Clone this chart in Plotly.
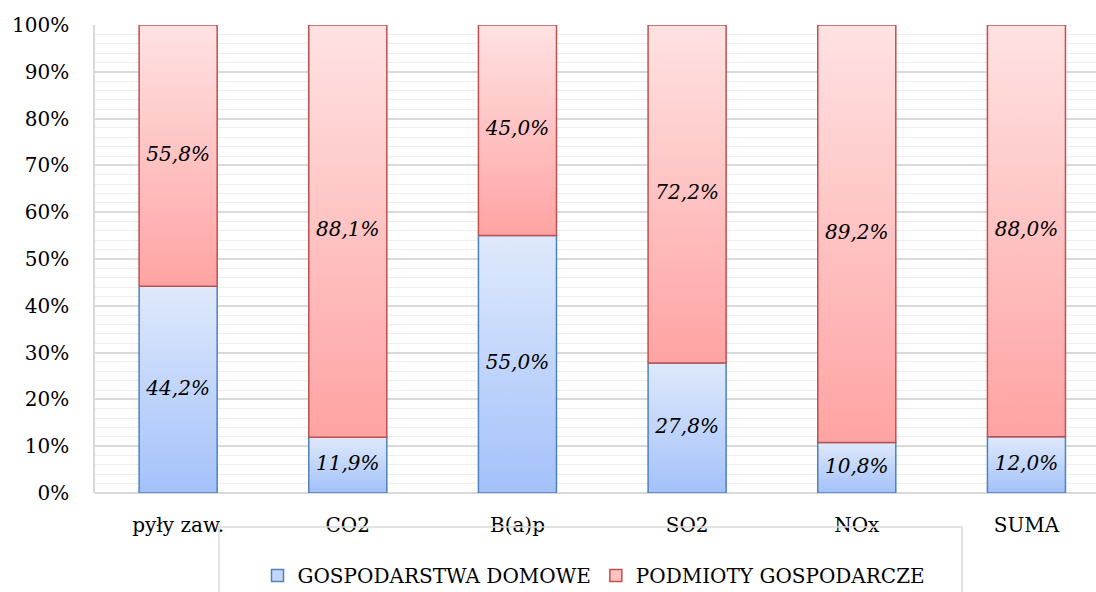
import plotly.graph_objects as go

# dane
kategorie = ["pyły zaw.", "CO2", "B(a)p", "SO2", "NOx", "SUMA"]
domowe = [44.2, 11.9, 55.0, 27.8, 10.8, 12.0]
podmioty = [55.8, 88.1, 45.0, 72.2, 89.2, 88.0]

serie = [
    ("GOSPODARSTWA DOMOWE", domowe, "#4f81bd", "#a3c1fa", "#dfe9fc", "#c4d7fb"),
    ("PODMIOTY GOSPODARCZE", podmioty, "#c0504d", "#ffa3a3", "#ffe2e2", "#ffc3c3"),
]

FONT = "DejaVu Serif"
bw = 0.46  # szerokosc slupka (w jednostkach kategorii)

# wymiary obszaru wykresu w pikselach (do przeliczen legendy)
L, T, W, H = 95, 25, 1001, 468


def px_x(p):
    return (p - L) / W


def px_y(p):
    return (T + H - p) / H


fig = go.Figure()
baza = [0.0] * len(kategorie)
lab_x, lab_y, lab_t = [], [], []
for nazwa, wart, kolor, dol, gora, sred in serie:
    for i, v in enumerate(wart):
        y0 = baza[i] / 100
        y1 = (baza[i] + v) / 100
        fig.add_trace(go.Scatter(
            x=[i - bw / 2, i + bw / 2, i + bw / 2, i - bw / 2, i - bw / 2],
            y=[y0, y0, y1, y1, y0],
            mode="lines",
            fill="toself",
            fillgradient=dict(type="vertical", colorscale=[[0, dol], [1, gora]]),
            line=dict(color=kolor, width=1.5),
            name=nazwa,
            showlegend=False,
            hoverinfo="skip",
        ))
        lab_x.append(i)
        lab_y.append((y0 + y1) / 2)
        lab_t.append(f"{v:.1f}%".replace(".", ","))
        baza[i] += v
    # wpis legendy (kwadratowy symbol)
    fig.add_trace(go.Bar(
        x=[None], y=[None], name=nazwa,
        marker=dict(color=sred, line=dict(color=kolor, width=1.5)),
    ))

fig.add_trace(go.Scatter(
    x=lab_x, y=lab_y, text=lab_t, mode="text",
    textfont=dict(family=FONT, size=20, color="black", style="italic"),
    showlegend=False, hoverinfo="skip",
))

fig.update_layout(
    width=1096, height=592,
    margin=dict(l=L, r=0, t=T, b=592 - T - H, autoexpand=False),
    paper_bgcolor="white", plot_bgcolor="white",
    font=dict(family=FONT, size=20, color="black"),
    showlegend=True,
    legend=dict(
        orientation="h", x=px_x(594), xanchor="center",
        y=px_y(556), yanchor="top",
        borderwidth=0, bgcolor="rgba(0,0,0,0)",
        font=dict(family=FONT, size=20),
        itemwidth=30,
    ),
    shapes=[dict(
        type="rect", xref="paper", yref="paper",
        x0=px_x(219), x1=px_x(962), y0=px_y(527), y1=px_y(610),
        line=dict(color="#d9d9d9", width=1.5), fillcolor="rgba(0,0,0,0)",
    )],
)
fig.update_xaxes(
    range=[-0.49, 5.41],
    tickmode="array", tickvals=list(range(len(kategorie))), ticktext=kategorie,
    showgrid=False, zeroline=False, automargin=False,
    showline=False, ticks="", ticklabelstandoff=18,
    tickfont=dict(family=FONT, size=20),
)
fig.update_yaxes(
    range=[0, 1], dtick=0.1, tickformat=".0%", automargin=False,
    showgrid=True, gridcolor="#d9d9d9", gridwidth=1.5,
    minor=dict(dtick=0.02, showgrid=True, gridcolor="#eeeeee", gridwidth=1),
    zeroline=True, zerolinecolor="#d9d9d9", zerolinewidth=1.5,
    showline=True, linecolor="#d9d9d9", linewidth=1.5,
    ticks="", ticklabelstandoff=20,
    tickfont=dict(family=FONT, size=20),
)

fig.write_html("out.html", config={"displayModeBar": False},
               post_script="document.body.style.margin='0';")
